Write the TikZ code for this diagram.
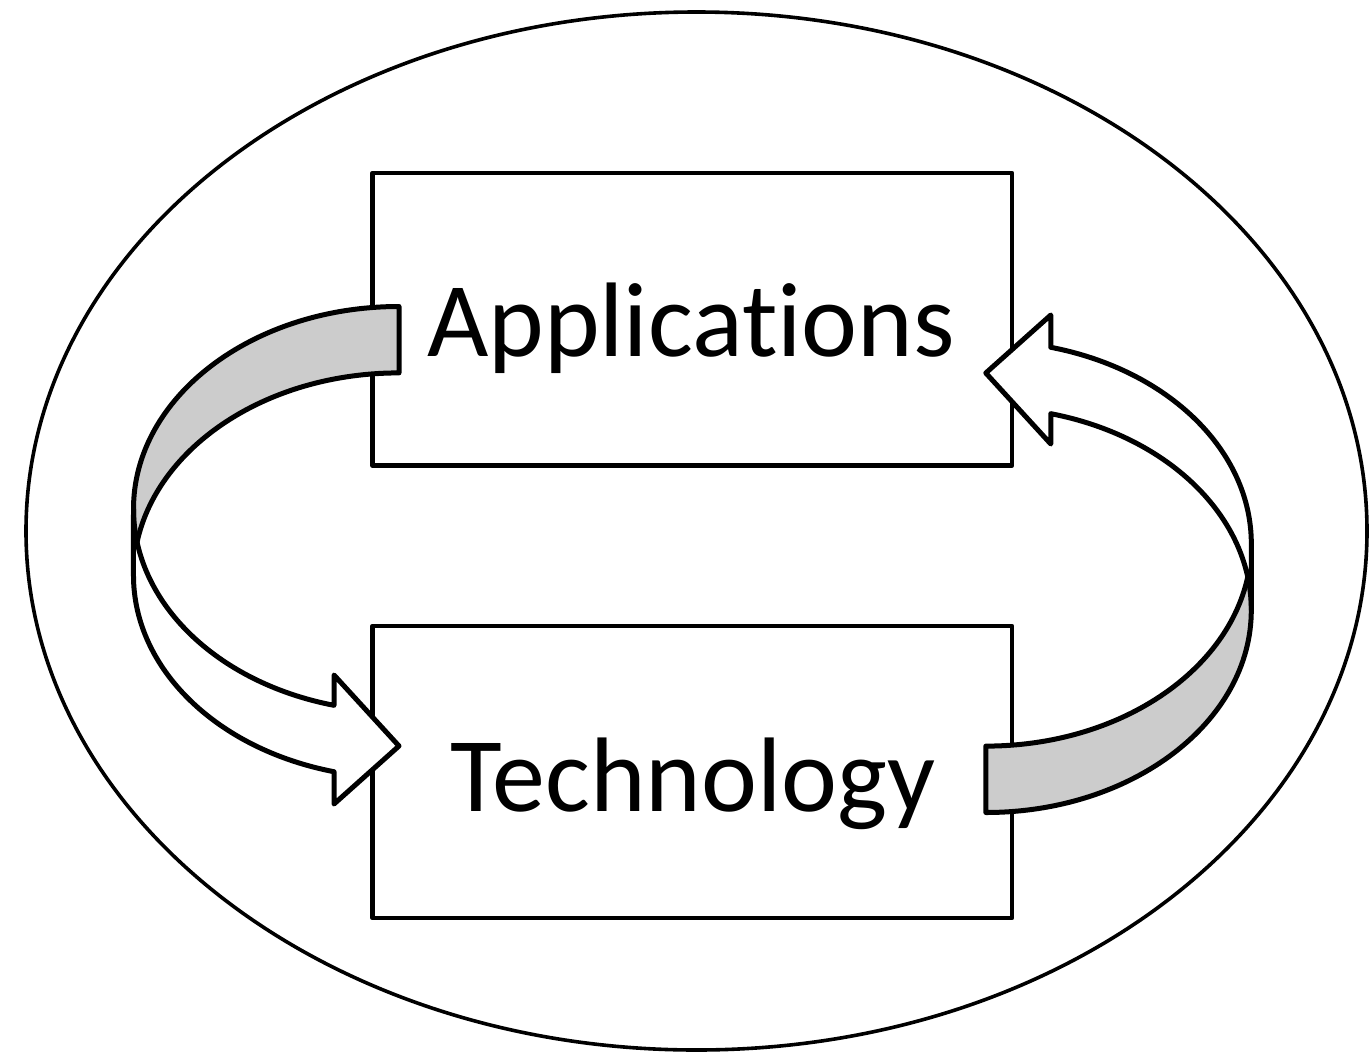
\documentclass[tikz,border=0pt]{standalone}
\usepackage{fontspec}
\setmainfont{Carlito}[Ligatures=NoCommon]
\begin{document}
\begin{tikzpicture}[x=1pt,y=-1pt,
  outline/.style={draw=black,line width=3.6pt},
  box/.style={draw=black,line width=4.8pt,line join=round,fill=white,
    rectangle,inner sep=0pt},
  label/.style={font=\fontsize{106}{127}\selectfont,anchor=base,inner sep=0pt},
  backface/.style={draw=black,line width=5pt,line join=round,fill=black!20},
  frontface/.style={draw=black,line width=5pt,line join=round,fill=white}]
\useasboundingbox (0,0) rectangle (1369,1053);

% surrounding ellipse
\draw[outline] (696.5,531) ellipse [x radius=670.5, y radius=519];

% the two boxes
\node[box,minimum width=639.5pt,minimum height=292.3pt] (app) at (692.25,319.15) {};
\node[box,minimum width=639.5pt,minimum height=292pt] (tech) at (692.25,772) {};
\node[label] (applabel) at (691,356) {Applications};
\node[label] (techlabel) at (693,811) {Technology};

% curved block arrow: Applications -> Technology
\begin{scope}
  \draw[backface] (399,306.5)
    arc[start angle=270, end angle=180, x radius=265.5, y radius=202.5]
    -- (133.5,575.4)
    arc[start angle=180, end angle=270, x radius=265.5, y radius=202.5]
    -- cycle;
  \draw[frontface] (133.5,509)
    arc[start angle=180, end angle=104.17, x radius=265.5, y radius=202.5]
    -- (334,675) -- (399,746) -- (334,804) -- (334,771.7)
    arc[start angle=104.17, end angle=180, x radius=265.5, y radius=202.5]
    -- cycle;
\end{scope}

% curved block arrow: Technology -> Applications (same shape turned half round)
\begin{scope}[rotate around={180:(692.4,559.5)}]
  \draw[backface] (399,306.5)
    arc[start angle=270, end angle=180, x radius=265.5, y radius=202.5]
    -- (133.5,575.4)
    arc[start angle=180, end angle=270, x radius=265.5, y radius=202.5]
    -- cycle;
  \draw[frontface] (133.5,509)
    arc[start angle=180, end angle=104.17, x radius=265.5, y radius=202.5]
    -- (334,675) -- (399,746) -- (334,804) -- (334,771.7)
    arc[start angle=104.17, end angle=180, x radius=265.5, y radius=202.5]
    -- cycle;
\end{scope}
\end{tikzpicture}
\end{document}
